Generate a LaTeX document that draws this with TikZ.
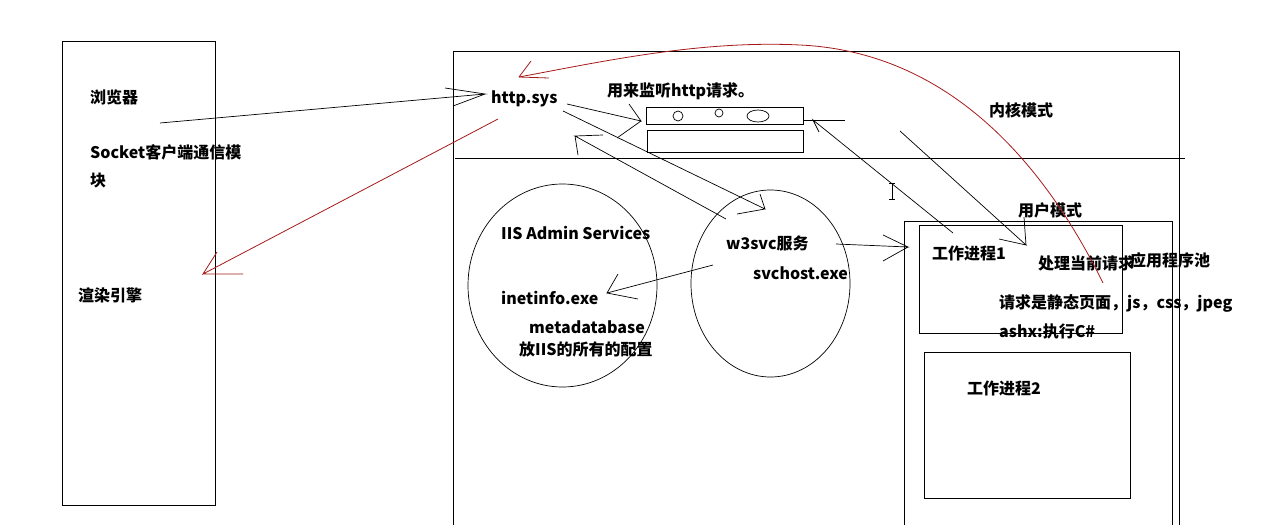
\documentclass[tikz,border=0pt]{standalone}
\usepackage{fontspec}
\setmainfont{Noto Sans CJK SC}
\usepackage{tikz}
\definecolor{penred}{RGB}{165,25,25}

\begin{document}
\begin{tikzpicture}[x=1pt,y=1pt]
\tikzset{lbl/.style={anchor=west, inner sep=0pt, font=\bfseries\fontsize{16}{28}\selectfont},
  box/.style={draw=black, line width=1pt},
  pen/.style={draw=black, line width=0.7pt},
  redpen/.style={draw=penred, line width=0.8pt}}
\useasboundingbox (0,0) rectangle (1275,-525);
% boxes and frames
\draw [box] (62,-41) rectangle (215,-505);
\draw [box] (453,-51) rectangle (1179,-540);
\draw [box] (455,-158) -- (1185,-158);
\draw [box] (646,-107) rectangle (803,-124);
\draw [pen] (678,-116) circle (5);
\draw [pen] (719,-113) circle (4);
\draw [pen] (758,-116) ellipse (11 and 6);
\draw [box] (647,-130) rectangle (803,-152);
\draw [box] (904,-221) rectangle (1172,-540);
\draw [box] (919,-225) rectangle (1122,-333);
\draw [box] (924,-352) rectangle (1130,-498);
\draw [pen] (562.5,-285.5) ellipse (94.5 and 101.5);
\draw [pen] (770.5,-283.5) ellipse (79.5 and 93.5);
% texts
\node [lbl] (browser) at (90,-97) {浏览器};
\node [lbl, align=left] (socket) at (90,-166) {Socket客户端通信模\\块};
\node [lbl] (render) at (78,-295) {渲染引擎};
\node [lbl] (httpsys) at (491,-99) {http.sys};
\node [lbl] (listen) at (607,-91) {用来监听http请求。};
\node [lbl] (kernel) at (989,-110) {内核模式};
\node [lbl] (user) at (1018,-210) {用户模式};
\node [lbl] (iis) at (501,-233) {IIS Admin Services};
\node [lbl] (inetinfo) at (501,-298) {inetinfo.exe};
\node [lbl] (meta) at (529,-327) {metadatabase};
\node [lbl] (conf) at (519,-349) {放IIS的所有的配置};
\node [lbl] (w3svc) at (726,-243) {w3svc服务};
\node [lbl] (svchost) at (753,-273) {svchost.exe};
\node [lbl] (wp1) at (932,-253) {工作进程1};
\node [lbl] (handle) at (1038,-263) {处理当前请求};
\node [lbl] (pool) at (1130,-260) {应用程序池};
\node [lbl] (static) at (999,-303) {请求是静态页面，js，css，jpeg};
\node [lbl] (ashx) at (999,-331) {ashx:执行C\#};
\node [lbl] (wp2) at (967,-388) {工作进程2};
% connector ends
\coordinate (bsend) at (160,-123);
\coordinate (hsin) at (485,-94);
\coordinate (hsout) at (567,-104);
\coordinate (lsin) at (641,-121);
\coordinate (wsback) at (726,-219);
\coordinate (hsback) at (575,-136);
\coordinate (hsdown) at (563,-111);
\coordinate (wstop) at (765,-209);
\coordinate (wptop) at (953,-233);
\coordinate (lsright) at (813,-120);
\coordinate (kmstart) at (900,-131);
\coordinate (hdtip) at (1026,-245);
\coordinate (wsright) at (836,-244);
\coordinate (pooltip) at (908,-247);
\coordinate (wsleft) at (713,-265);
\coordinate (ietip) at (607,-293);
\coordinate (hsred) at (498,-119);
\coordinate (rdtip) at (203,-274);
\coordinate (hdred) at (1103,-283);
\coordinate (hsredtip) at (519,-77);
% black arrows
\draw [pen] (bsend) -- (hsin) -- ++(-40,6) (hsin) -- ++(-32,-12);
\draw [pen] (hsout) -- (lsin) -- ++(-12,17) (lsin) -- ++(-24,-17);
\draw [pen] (wsback) -- (hsback) -- ++(28,1) (hsback) -- ++(3,-19);
\draw [pen] (hsdown) -- (wstop) -- ++(-5,15) (wstop) -- ++(-28,-5);
\draw [pen] (wptop) -- (lsright) -- ++(6,-12);
\draw [pen] (803,-120) -- (845,-120);
\draw [pen] (kmstart) -- (hdtip) -- ++(-27,6) (hdtip) -- ++(-2,28);
\draw [pen] (wsright) -- (pooltip) -- ++(-25,12) (pooltip) -- ++(-25,-14);
\draw [pen] (wsleft) -- (ietip) -- ++(11,19) (ietip) -- ++(31,-6);
% red arrows
\draw [redpen] (hsred) -- (rdtip) -- ++(14,22) (rdtip) -- ++(40,0);
\draw [redpen] (hdred) .. controls (1045,-165) and (950,-52) .. (800,-45)
  .. controls (700,-40) and (600,-62) .. (hsredtip);
\draw [redpen] (hsredtip) -- ++(12,16) (hsredtip) -- ++(30,-1);
% text cursor
\draw [pen] (892,-183) -- (892,-199) (889,-183) -- (895,-183) (889,-199) -- (895,-199);
\end{tikzpicture}
\end{document}
